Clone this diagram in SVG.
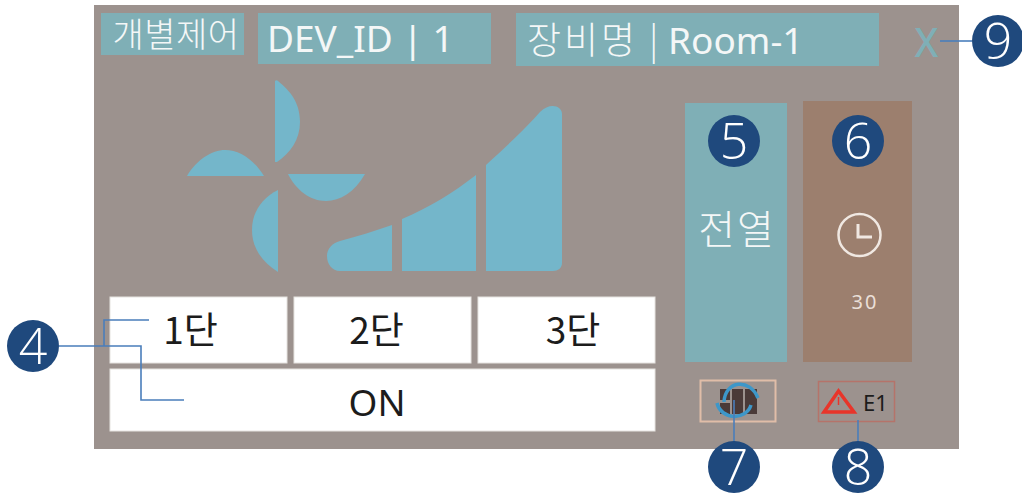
<svg xmlns="http://www.w3.org/2000/svg" width="1022" height="498" viewBox="0 0 1022 498">
<style>
.k{font-family:"Noto Sans CJK KR","Noto Sans",sans-serif;font-weight:300}
.s{font-family:"Noto Sans","Noto Sans CJK KR",sans-serif}
.w{fill:#f4f7f7}
.d{fill:#1c1c1c}
.m{text-anchor:middle}
.teal{fill:#7fafb6}
.fan{fill:#74b6ca}
.c{fill:#1f497d}
.n{fill:#fff;font-family:"Open Sans",sans-serif;font-weight:300;font-size:50px;text-anchor:middle}
.btn{fill:#fff;stroke:#e6e3e0;stroke-width:1}
.l{fill:none;stroke:#4a7ebb;stroke-width:1.6}
</style>
<rect x="94" y="5" width="865" height="444" fill="#9c928e"/>
<g id="header">
<rect class="teal" x="101" y="13" width="143" height="42"/>
<text class="k w m" x="176" y="47" font-size="34" letter-spacing="0.500">개별제어</text>
<rect class="teal" x="258" y="13" width="233" height="51"/>
<text class="s w" x="267" y="52" font-size="37">DEV_ID | 1</text>
<rect class="teal" x="516" y="13" width="363" height="53"/>
<text class="k w" font-size="37"><tspan x="527" y="54" font-size="37" letter-spacing="3">장비명</tspan><tspan x="649" y="54">|</tspan><tspan class="s" x="668" y="54" font-size="37" font-weight="400">Room-1</tspan></text>
<text class="s m" x="926.500" y="57" font-size="39" font-weight="500" fill="#7fafb6">X</text>
</g>
<g id="fan-icon" class="fan">
<path d="M275 81C276 80 277 80 278 81C290 91 300 102 300 122C300 140 290 153 277 162H275Z"/>
<path d="M187 176C196 160 212 150 225 150C240 150 254 160 264 176Z"/>
<path d="M288 174H365C355 192 340 201 326 201C310 201 296 190 288 174Z"/>
<path d="M278 190V272C262 262 252 248 252 230C252 212 262 198 278 190Z"/>
</g>
<g id="level-icon" class="fan">
<path d="M392 225V271H340C332 271 327 264 327 256C327 249 332 243 340 241C358 236 375 231 392 225Z"/>
<path d="M402 219C428 208 453 193 476 175V271H402Z"/>
<path d="M486 165C510 143 528 126 540 112C550 102 562 106 562 114V263C562 268 558 271 553 271H486Z"/>
</g>
<g id="btn-level1"><rect class="btn" x="110" y="297" width="177" height="66"/><text class="k d m" x="190.500" y="344" font-size="37" font-weight="400" style="font-weight:400">1단</text></g>
<g id="btn-level2"><rect class="btn" x="294" y="297" width="177" height="66"/><text class="k d m" x="376.500" y="344" font-size="37" style="font-weight:400">2단</text></g>
<g id="btn-level3"><rect class="btn" x="478" y="297" width="177" height="66"/><text class="k d m" x="573" y="344" font-size="37" style="font-weight:400">3단</text></g>
<g id="btn-on"><rect class="btn" x="110" y="369" width="545" height="62"/><text class="s d m" x="377" y="416" font-size="37">ON</text></g>
<g id="mode-panel">
<rect class="teal" x="685" y="103" width="102" height="259"/>
<text class="k w m" x="737" y="244" font-size="40" letter-spacing="2">전열</text>
</g>
<g id="timer-panel">
<rect x="803" y="101" width="109" height="261" fill="#9c7f6e"/>
<circle cx="859.500" cy="235" r="21" fill="none" stroke="#f0e8e2" stroke-width="2.500"/>
<path d="M858 224V237H872" fill="none" stroke="#f0e8e2" stroke-width="3"/>
<text class="s m" x="865" y="309" font-size="20" letter-spacing="2" fill="#eadfd8">30</text>
</g>
<g id="filter-status">
<rect x="700.500" y="380.500" width="75" height="41" fill="none" stroke="#e0bda8" stroke-width="2"/>
<g fill="#4a3a38"><rect x="720" y="389" width="10" height="11"/><rect x="720" y="403" width="10" height="11"/><rect x="732" y="389" width="11" height="25"/><rect x="745" y="389" width="12" height="25"/></g>
<path d="M724 402C725 380 750 378 758 398M717 403C721 420 746 421 751 405" fill="none" stroke="#3d97c9" stroke-width="3.500"/>
</g>
<g id="error-status">
<rect x="818.500" y="381.500" width="76" height="40" fill="none" stroke="#b5736a" stroke-width="1.500"/>
<path d="M838.500 391L854 412H824Z" fill="none" stroke="#e8352a" stroke-width="3.500"/>
<path d="M838.500 397V405" stroke="#e8352a" stroke-width="1.500"/>
<text class="s d" x="863" y="411" font-size="22">E1</text>
</g>
<g id="connectors" class="l">
<path class="l" d="M59 346H141V400H184"/>
<path class="l" d="M104 346V320H149"/>
<path class="l" d="M734 400V442"/>
<path class="l" d="M858 420V442"/>
<path class="l" d="M940 41H972"/>
</g>
<g id="badge-4"><circle class="c" cx="33" cy="346" r="26"/><text class="n" x="33" y="364">4</text></g>
<g id="badge-5"><circle class="c" cx="734" cy="141" r="26"/><text class="n" x="734" y="159">5</text></g>
<g id="badge-6"><circle class="c" cx="858" cy="141" r="26"/><text class="n" x="858" y="159">6</text></g>
<g id="badge-7"><circle class="c" cx="734" cy="467" r="26"/><text class="n" x="734" y="485">7</text></g>
<g id="badge-8"><circle class="c" cx="858" cy="467" r="26"/><text class="n" x="858" y="485">8</text></g>
<g id="badge-9"><circle class="c" cx="998" cy="41" r="26"/><text class="n" x="998" y="59">9</text></g>
</svg>
